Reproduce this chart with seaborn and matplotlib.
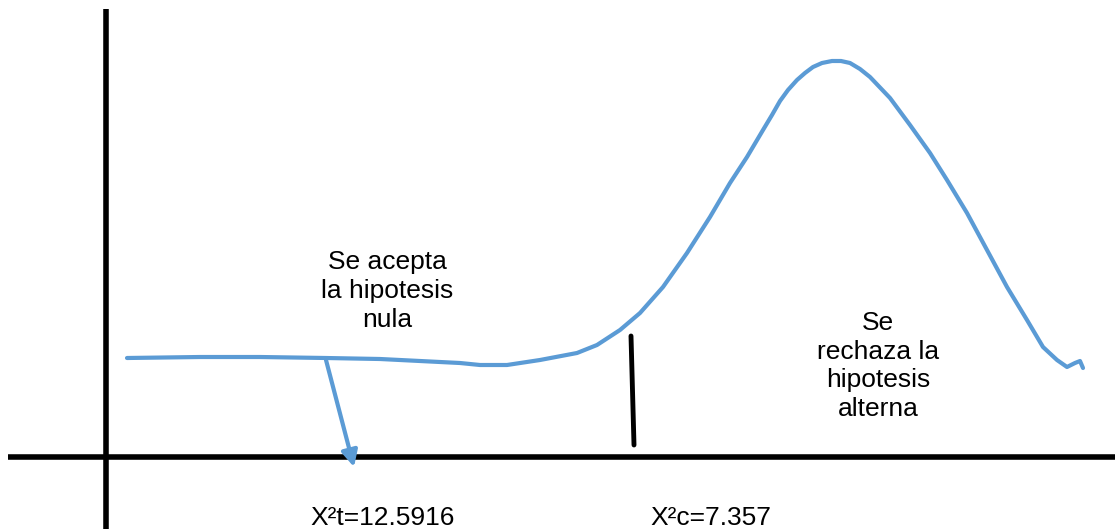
import numpy as np
import pandas as pd
import seaborn as sns
import matplotlib.pyplot as plt

# curve, in pixel coordinates (y grows downwards)
curve_x = [127, 200, 260, 326, 380, 420, 460, 480, 507, 540, 577, 597, 620,
           640, 663, 687, 710, 730, 747, 763, 772, 780, 788, 797, 805, 813,
           822, 832, 841, 850, 860, 870, 890, 910, 930, 947, 967, 987, 1007,
           1027, 1043, 1057, 1067, 1075, 1080, 1083]
curve_y = [358, 357, 357, 358, 359, 361, 363, 365, 365, 360, 353, 345, 330,
           313, 287, 253, 217, 183, 157, 130, 115, 101, 90, 80, 73, 67,
           63, 61, 61, 63, 69, 77, 98, 125, 153, 180, 213, 250, 287,
           320, 347, 360, 367, 363, 361, 368]

labels = ["Se acepta\nla hipotesis\nnula", "Se\nrechaza la\nhipotesis\nalterna"]
stats = ["X²t=12.5916", "X²c=7.357"]

blue = "#5B9BD5"

sns.set_theme(style="white")
plt.rcParams['font.family'] = ['Liberation Sans', 'DejaVu Sans']

fig = plt.figure(figsize=(11.15, 5.29), dpi=100)
ax = fig.add_axes([0, 0, 1, 1])
ax.set_xlim(0, 1115)
ax.set_ylim(529, 0)
ax.axis("off")

# axes drawn by hand
ax.plot([106, 106], [9, 529], color="black", lw=4, solid_capstyle="butt")
ax.plot([8, 1115], [457, 457], color="black", lw=4, solid_capstyle="butt")

data = pd.DataFrame({"x": curve_x, "y": curve_y})
sns.lineplot(data=data, x="x", y="y", sort=False, estimator=None,
             color=blue, lw=3, solid_joinstyle="round", ax=ax)

# arrow to the tabulated value
ax.annotate("", xy=(354, 467), xytext=(326, 360),
            arrowprops=dict(arrowstyle="-|>,head_length=0.8,head_width=0.4",
                            color=blue, lw=3, shrinkA=0, shrinkB=0))

# calculated value marker
ax.plot([631, 634], [336, 445], color="black", lw=3.5)

ax.text(387, 291, labels[0], ha="center", va="center", fontsize=19,
        linespacing=1.25, color="black")
ax.text(878, 366, labels[1], ha="center", va="center", fontsize=19,
        linespacing=1.25, color="black")
ax.text(383, 518, stats[0], ha="center", va="center", fontsize=19,
        color="black")
ax.text(711, 518, stats[1], ha="center", va="center", fontsize=19,
        color="black")

fig.savefig("out.png", dpi=100)
